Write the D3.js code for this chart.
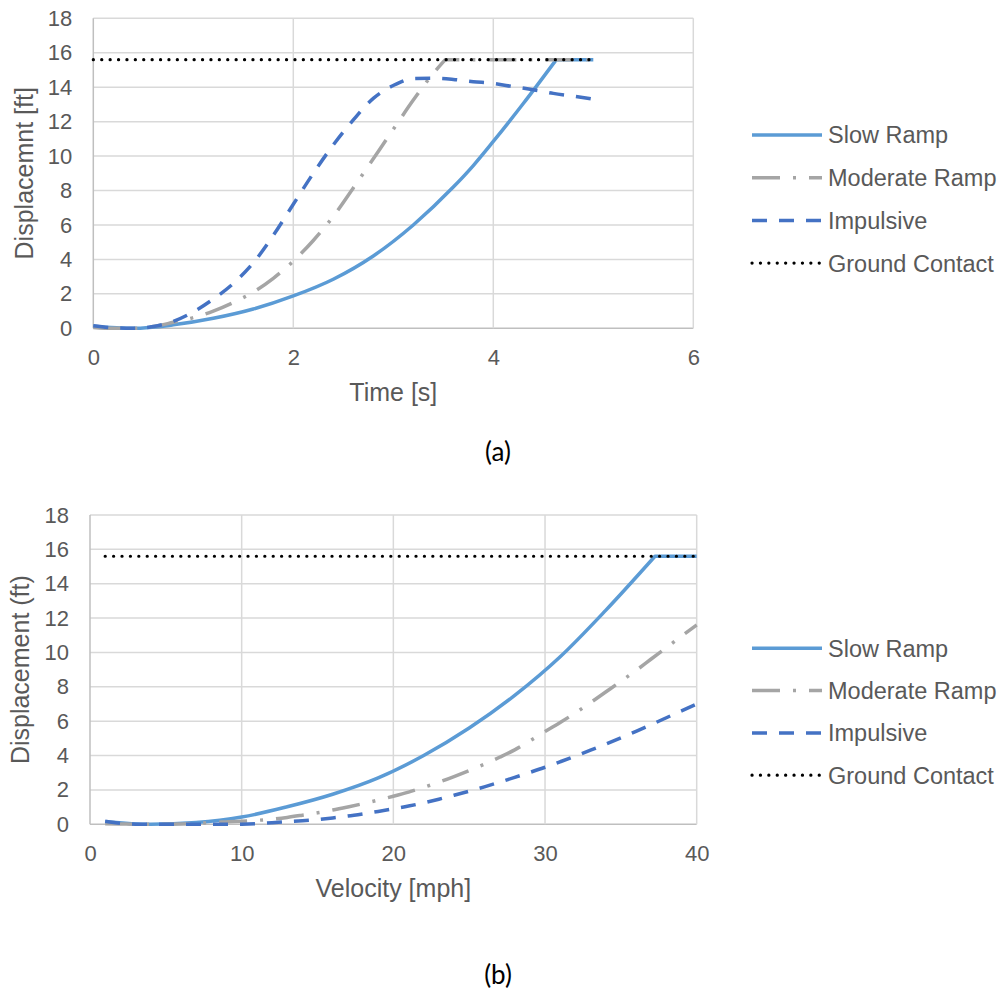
<!DOCTYPE html>
<html><head><meta charset="utf-8">
<script src="https://cdn.jsdelivr.net/npm/d3@7"></script>
<style>
body{margin:0;background:#fff;}
svg{display:block;}
text{font-family:"Liberation Sans",Arial,sans-serif;}
</style></head>
<body><svg id="c" width="1003" height="992"></svg>
<script>
// ---------- DATA ----------
const seriesNames = ["Slow Ramp","Moderate Ramp","Impulsive","Ground Contact"];
const groundValue = 15.6;

// (a) Displacement vs time
const aSlowT = [0,0.4,0.8,1.2,1.6,2.0,2.4,2.8,3.2,3.6,3.8,4.0,4.3,4.63,5.0];
const aSlowD = [0.12,0.0,0.2,0.58,1.12,1.88,2.85,4.2,6.0,8.2,9.45,10.85,13.05,15.6,15.6];
const aModT = [0,0.2,0.4,0.6,0.8,1.0,1.2,1.4,1.6,1.8,2.0,2.2,2.4,2.6,2.8,3.0,3.2,3.4,3.52,4.0,4.5,5.0];
const aModD = [0.05,0.0,0.0,0.1,0.35,0.62,1.0,1.5,2.1,2.9,3.9,5.1,6.5,8.15,9.85,11.55,13.25,14.8,15.6,15.6,15.6,15.6];
const aImpT = [0,0.2,0.4,0.6,0.8,1.0,1.2,1.4,1.6,1.8,2.0,2.2,2.4,2.6,2.8,3.0,3.2,3.4,3.6,3.8,4.0,4.2,4.4,4.6,4.8,5.0];
const aImpD = [0.15,0.03,0.0,0.1,0.4,0.95,1.7,2.6,3.8,5.4,7.2,9.0,10.65,12.1,13.35,14.1,14.5,14.52,14.45,14.32,14.22,14.03,13.85,13.64,13.48,13.3];
const aGroundT = [0,5];
const aXTicks = [0,2,4,6];

// (b) Displacement vs velocity
const bSlowV = [1,4,7,10,13,16,19,22,25,28,31,34,37.25,40];
const bSlowD = [0.15,0.0,0.1,0.42,1.02,1.75,2.7,4.0,5.6,7.5,9.75,12.45,15.6,15.6];
const bModV = [1,2,3,4,5,6,7,8,9,10,11,12,13,14,15,16,17,18,19,20,21,22,23,24,25,26,27,28,29,30,31,32,33,34,35,36,37,38,39,40];
const bModD = [0.03,0.02,0.0,0.0,0.0,0.02,0.05,0.1,0.14,0.18,0.23,0.3,0.4,0.53,0.67,0.83,1.01,1.2,1.41,1.63,1.87,2.15,2.45,2.78,3.13,3.5,3.9,4.33,4.85,5.4,5.93,6.48,7.08,7.7,8.32,8.95,9.62,10.28,10.95,11.6];
const bImpV = [1,2,3,4,5,6,7,8,9,10,11,12,13,14,15,16,17,18,19,20,21,22,23,24,25,26,27,28,29,30,31,32,33,34,35,36,37,38,39,40];
const bImpD = [0.18,0.06,0.01,0.0,0.0,0.0,0.0,0.0,0.0,0.01,0.04,0.09,0.15,0.21,0.28,0.37,0.48,0.61,0.75,0.9,1.06,1.25,1.46,1.69,1.93,2.18,2.45,2.73,3.02,3.32,3.64,3.97,4.31,4.66,5.03,5.41,5.8,6.2,6.6,7.0];
const bGroundV = [1,40];
const bXTicks = [0,10,20,30,40];

const yTicks = [0,2,4,6,8,10,12,14,16,18];

// ---------- STYLE ----------
const styles = [
  {color:"#5B9BD5", dash:null, width:3.5, cap:"butt"},
  {color:"#A5A5A5", dash:"28 13 3 13", width:3.5, cap:"butt"},
  {color:"#4472C4", dash:"15 12", width:3.5, cap:"butt"},
  {color:"#000000", dash:"0.1 8.3", width:3.2, cap:"round"}
];

const svg = d3.select("#c");

function drawChart(cfg){
  const g = svg.append("g");
  const x = d3.scaleLinear().domain(cfg.xDomain).range([cfg.left, cfg.right]);
  const y = d3.scaleLinear().domain([0,18]).range([cfg.bottom, cfg.top]);

  // gridlines
  g.append("g").selectAll("line").data(yTicks).join("line")
    .attr("x1", cfg.left).attr("x2", cfg.right)
    .attr("y1", d=>y(d)).attr("y2", d=>y(d))
    .attr("stroke", d=> d===0 ? "#BFBFBF" : "#D9D9D9").attr("stroke-width", 1.5);
  g.append("g").selectAll("line").data(cfg.xTicks).join("line")
    .attr("x1", d=>x(d)).attr("x2", d=>x(d))
    .attr("y1", cfg.top).attr("y2", cfg.bottom)
    .attr("stroke", d=> d===cfg.xDomain[0] ? "#BFBFBF" : "#D9D9D9").attr("stroke-width", 1.5);

  const fmt = d3.format("d");
  const xAxis = g.append("g").attr("transform", `translate(0,${cfg.bottom})`)
    .call(d3.axisBottom(x).tickValues(cfg.xTicks).tickFormat(fmt).tickSize(0).tickPadding(cfg.xTickPad));
  const yAxis = g.append("g").attr("transform", `translate(${cfg.left},0)`)
    .call(d3.axisLeft(y).tickValues(yTicks).tickFormat(fmt).tickSize(0).tickPadding(cfg.yTickPad));
  [xAxis,yAxis].forEach(a=>{
    a.select(".domain").remove();
    a.selectAll("text").attr("fill","#595959").style("font-size","22px")
      .style("font-family","'Liberation Sans',Arial,sans-serif");
  });

  // series: smooth rising part, straight flat part after reaching ground contact
  const smooth = d3.line().x(d=>x(d[0])).y(d=>y(d[1])).curve(d3.curveMonotoneX);
  const straight = d3.line().x(d=>x(d[0])).y(d=>y(d[1]));
  cfg.series.forEach((s,i)=>{
    const st = styles[i];
    const pts = s.x.map((v,k)=>[v, s.y[k]]);
    let k = pts.findIndex(p=>p[1] >= groundValue);
    let dStr;
    if (k > 0 && k < pts.length-1) {
      dStr = smooth(pts.slice(0,k+1)) + straight(pts.slice(k)).replace(/^M/, "L");
    } else {
      dStr = smooth(pts);
    }
    g.append("path").attr("d", dStr)
      .attr("fill","none").attr("stroke", st.color).attr("stroke-width", st.width)
      .attr("stroke-dasharray", st.dash).attr("stroke-linecap", st.cap)
      .attr("stroke-linejoin","round");
  });

  // titles
  g.append("text").attr("x", (cfg.left+cfg.right)/2).attr("y", cfg.xTitleY)
    .attr("text-anchor","middle").attr("fill","#595959").style("font-size","25px")
    .text(cfg.xTitle);
  g.append("text").attr("transform", `translate(${cfg.yTitleX},${(cfg.top+cfg.bottom)/2}) rotate(-90)`)
    .attr("text-anchor","middle").attr("fill","#595959").style("font-size","25px")
    .text(cfg.yTitle);

  // legend
  const lg = g.append("g");
  seriesNames.forEach((name,i)=>{
    const st = styles[i];
    const yy = cfg.legendY + i*cfg.legendStep;
    lg.append("line").attr("x1", 752).attr("x2", 822).attr("y1", yy).attr("y2", yy)
      .attr("stroke", st.color).attr("stroke-width", st.width)
      .attr("stroke-dasharray", st.dash).attr("stroke-linecap", st.cap);
    lg.append("text").attr("x", 828).attr("y", yy).attr("dy","0.36em")
      .attr("fill","#595959").style("font-size","23.5px").text(name);
  });

  // panel label
  g.append("text").attr("x", 498).attr("y", cfg.panelY).attr("text-anchor","middle")
    .attr("fill","#000").style("font-family","Lato,'Open Sans',sans-serif").style("font-size","26px")
    .text(cfg.panel);
}

drawChart({
  left:93.3, right:693.3, top:18.3, bottom:328.3,
  xDomain:[0,6], xTicks:aXTicks, xTickPad:21, yTickPad:21,
  xTitle:"Time [s]", yTitle:"Displacemnt [ft]", xTitleY:401, yTitleX:33,
  series:[
    {x:aSlowT, y:aSlowD},
    {x:aModT, y:aModD},
    {x:aImpT, y:aImpD},
    {x:aGroundT, y:aGroundT.map(()=>groundValue)}
  ],
  legendY:135, legendStep:42.7, panel:"(a)", panelY:461
});

drawChart({
  left:90, right:696.7, top:515, bottom:824.3,
  xDomain:[0,40], xTicks:bXTicks, xTickPad:21, yTickPad:21,
  xTitle:"Velocity [mph]", yTitle:"Displacement (ft)", xTitleY:897, yTitleX:29,
  series:[
    {x:bSlowV, y:bSlowD},
    {x:bModV, y:bModD},
    {x:bImpV, y:bImpD},
    {x:bGroundV, y:bGroundV.map(()=>groundValue)}
  ],
  legendY:648.3, legendStep:42.3, panel:"(b)", panelY:984
});
</script></body></html>
